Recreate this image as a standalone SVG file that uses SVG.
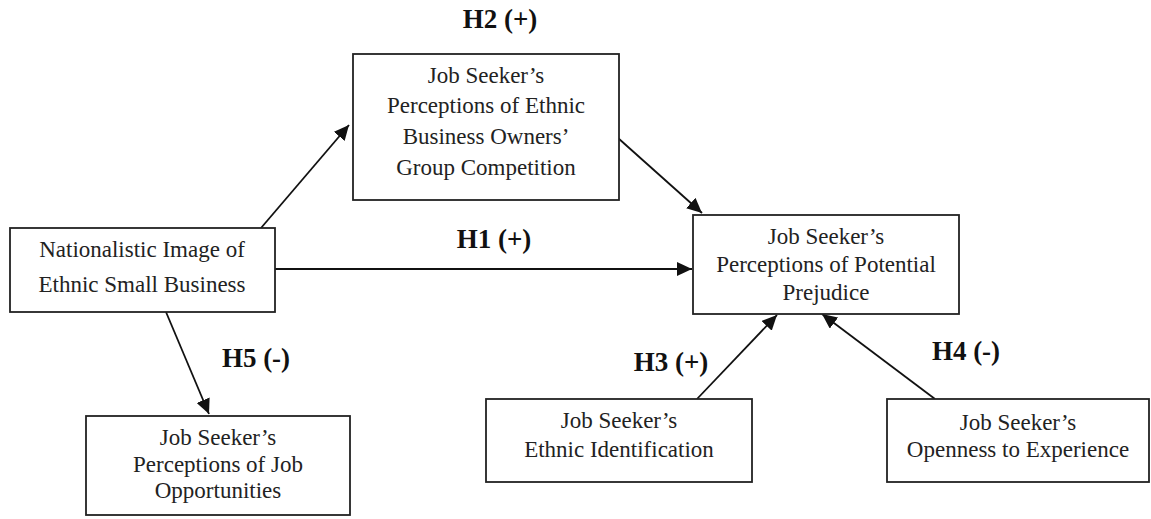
<svg xmlns="http://www.w3.org/2000/svg" width="1151" height="519" viewBox="0 0 1151 519">
<defs>
<marker id="ah" markerUnits="userSpaceOnUse" markerWidth="16" markerHeight="14" refX="15" refY="7" orient="auto">
<path d="M0,0 L15,7 L0,14 z" fill="#111"/>
</marker>
<style>
.box{fill:#fff;stroke:#222;stroke-width:1.8}
.t{font-family:"Liberation Serif","Times New Roman",serif;font-size:23px;fill:#222;text-anchor:middle}
.lbl{font-family:"Liberation Serif","Times New Roman",serif;font-size:27px;font-weight:bold;fill:#111;text-anchor:middle}
.c{stroke:#111;stroke-width:1.8;fill:none;marker-end:url(#ah)}
</style>
</defs>
<rect width="1151" height="519" fill="#fff"/>
<g id="connectors">
<line class="c" x1="261" y1="228" x2="349" y2="125"/>
<line class="c" x1="618" y1="138" x2="702" y2="213"/>
<line class="c" x1="275" y1="269" x2="692" y2="269"/>
<line class="c" x1="166" y1="312" x2="209" y2="414"/>
<line class="c" x1="697" y1="399" x2="777" y2="315"/>
<line class="c" x1="935" y1="399" x2="822" y2="314"/>
</g>
<g id="labels">
<text class="lbl" x="500" y="28">H2 (+)</text>
<text class="lbl" x="494" y="248">H1 (+)</text>
<text class="lbl" x="256" y="367">H5 (-)</text>
<text class="lbl" x="671" y="371">H3 (+)</text>
<text class="lbl" x="966" y="360">H4 (-)</text>
</g>
<g id="node-competition">
<rect class="box" x="353" y="54" width="266" height="146"/>
<text class="t" x="486" y="83">Job Seeker’s</text>
<text class="t" x="486" y="113">Perceptions of Ethnic</text>
<text class="t" x="486" y="144">Business Owners’</text>
<text class="t" x="486" y="175">Group Competition</text>
</g>
<g id="node-nationalistic">
<rect class="box" x="10" y="228" width="265" height="84"/>
<text class="t" x="142" y="257">Nationalistic Image of</text>
<text class="t" x="142" y="292">Ethnic Small Business</text>
</g>
<g id="node-prejudice">
<rect class="box" x="693" y="215" width="266" height="99"/>
<text class="t" x="826" y="244">Job Seeker’s</text>
<text class="t" x="826" y="272">Perceptions of Potential</text>
<text class="t" x="826" y="300">Prejudice</text>
</g>
<g id="node-opportunities">
<rect class="box" x="86" y="416" width="264" height="99"/>
<text class="t" x="218" y="445">Job Seeker’s</text>
<text class="t" x="218" y="472">Perceptions of Job</text>
<text class="t" x="218" y="498">Opportunities</text>
</g>
<g id="node-ethnic-id">
<rect class="box" x="486" y="399" width="266" height="83"/>
<text class="t" x="619" y="428">Job Seeker’s</text>
<text class="t" x="619" y="457">Ethnic Identification</text>
</g>
<g id="node-openness">
<rect class="box" x="887" y="399" width="262" height="83"/>
<text class="t" x="1018" y="430">Job Seeker’s</text>
<text class="t" x="1018" y="457">Openness to Experience</text>
</g>
</svg>
